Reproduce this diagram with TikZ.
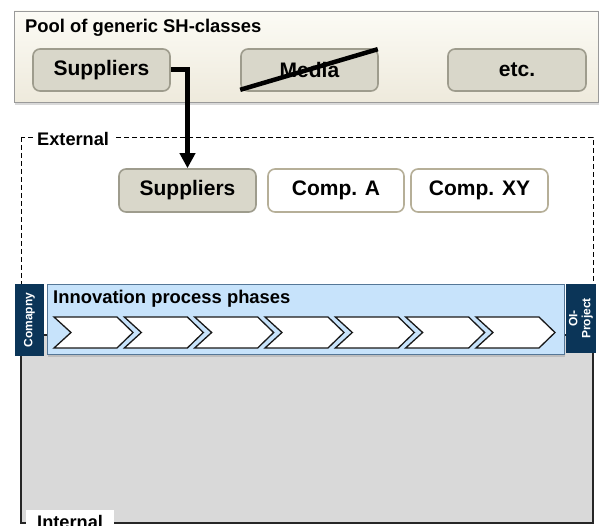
\documentclass[tikz,border=0pt]{standalone}
\usepackage{fontspec}
\setmainfont{Liberation Sans}
\usetikzlibrary{arrows.meta,shadows,calc}

\definecolor{poolline}{HTML}{9A9A9A}
\definecolor{pooltop}{HTML}{FCFBF5}
\definecolor{poolbot}{HTML}{EEEADC}
\definecolor{classfill}{HTML}{D9D7CA}
\definecolor{classline}{HTML}{9E9C8D}
\definecolor{compline}{HTML}{B6AF98}
\definecolor{barfill}{HTML}{C7E3FB}
\definecolor{barline}{HTML}{557797}
\definecolor{tabfill}{HTML}{0B3558}
\definecolor{internalfill}{HTML}{D9D9D9}

\begin{document}
\begin{tikzpicture}[x=1pt,y=-1pt,
  font=\bfseries,
  poolbox/.style={draw=poolline, line width=0.8pt, top color=pooltop, bottom color=poolbot,
    drop shadow={shadow xshift=1pt, shadow yshift=-3pt, opacity=0.3}},
  bigtext/.style={font=\fontsize{21}{24}\selectfont\bfseries},
  titletext/.style={font=\fontsize{18.4}{21}\selectfont\bfseries, inner sep=0pt},
  classbox/.style={bigtext, draw=classline, fill=classfill, line width=1.6pt,
    rounded corners=7pt, minimum height=42pt},
  compbox/.style={bigtext, draw=compline, fill=white, line width=1.6pt,
    rounded corners=7pt, minimum height=42pt},
  strike/.style={line width=4.5pt},
  flowarrow/.style={line width=5pt, line join=miter, -{Triangle[width=15pt,length=15pt]}},
  extframe/.style={dash pattern=on 5pt off 3pt, line width=0.8pt},
  internalbox/.style={draw=black!85, line width=1.2pt, fill=internalfill},
  framelabel/.style={font=\fontsize{18.2}{21}\selectfont\bfseries, fill=white, inner ysep=4pt},
  phasebar/.style={draw=barline, line width=0.9pt, fill=barfill,
    drop shadow={shadow xshift=1pt, shadow yshift=-2.5pt, opacity=0.3}},
  tab/.style={fill=tabfill, text=white, font=\fontsize{12}{13}\selectfont\bfseries,
    inner sep=0pt, align=center},
  chevron/.style={draw=black!90, line width=1.3pt, fill=white, line join=miter}
]
\useasboundingbox (0,0) rectangle (602,526);

% pool of stakeholder classes
\node[poolbox, minimum width=584pt, minimum height=91pt] (pool) at (306,56.5) {};
\node[titletext, anchor=base west] (pooltitle) at (25,33) {Pool of generic SH-classes};
\node[classbox, minimum width=137pt] (supp1) at (101.5,70) {Suppliers};
\node[classbox, minimum width=137pt] (media) at (309.5,70) {Media};
\node[classbox, minimum width=138pt] (etc) at (517,70) {etc.};
\draw[strike] ($(media.south west)+(0,-2)$) -- ($(media.north east)+(-1,1)$);

% external environment
\draw[extframe] (21,137) rectangle (593,335);
\node[framelabel, anchor=base west, inner xsep=4pt] (extlabel) at (33,146) {External};
\node[classbox, minimum width=137pt, minimum height=43pt] (supp2) at (187.5,190.5) {Suppliers};
\node[compbox, minimum width=136pt, minimum height=43pt] (compa) at (336,190.5) {Comp. A};
\node[compbox, minimum width=137pt, minimum height=43pt] (compxy) at (479.5,190.5) {Comp. XY};

% internal environment
\draw[internalbox] (21,335) rectangle (593,523);
\node[framelabel, anchor=base west, inner xsep=11pt, inner ysep=5pt] (intlabel) at (26,528) {Internal};

% innovation process bar
\node[phasebar, minimum width=517pt, minimum height=70pt] (bar) at (305.5,319) {};
\node[titletext, anchor=base west] (bartitle) at (53,304) {Innovation process phases};
\node[tab, rotate=90, minimum width=72pt, minimum height=29pt] (company) at (29.5,320) {Comapny};
\node[tab, rotate=90, minimum width=69pt, minimum height=30pt] (oiproject) at (581,318.5) {OI-\\Project};

% phase chevrons
\foreach \i in {0,...,6} {
  \pgfmathsetmacro{\xl}{54+70.33*\i}
  \draw[chevron] (\xl,317) -- ++(63,0) -- ++(16,15.5) -- ++(-16,15.5)
    -- ++(-63,0) -- ++(17,-15.5) -- cycle;
}

% selection of a stakeholder class
\draw[flowarrow] (supp1.east) -| (supp2.north);
\end{tikzpicture}
\end{document}
